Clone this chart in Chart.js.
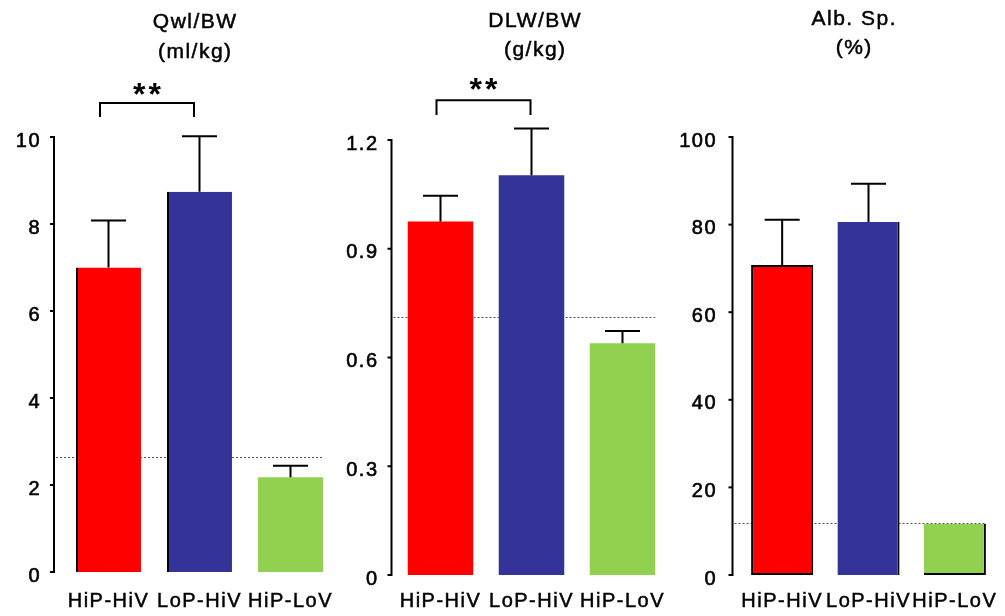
<!DOCTYPE html>
<html><head><meta charset="utf-8">
<script src="https://cdn.jsdelivr.net/npm/chart.js@4.4.1/dist/chart.umd.min.js"></script>
<style>
html,body{margin:0;padding:0;background:#fff;}
#wrap{position:relative;width:1005px;height:616px;overflow:hidden;background:#fff;}
canvas{position:absolute;top:0;}
</style></head><body>
<div id="wrap">
<canvas id="c1" width="340" height="616" style="left:0px"></canvas>
<canvas id="c2" width="330" height="616" style="left:340px"></canvas>
<canvas id="c3" width="335" height="616" style="left:670px"></canvas>
</div>
<script>
// ---- data ----
const categories = ['HiP-HiV', 'LoP-HiV', 'HiP-LoV'];
const barColors = ['#ff0000', '#333399', '#92d050'];

const qwlMeans = [7.00, 8.74, 2.18];
const qwlSem = [1.08, 1.28, 0.26];
const qwlTicks = [0, 2, 4, 6, 8, 10];
const qwlRef = 2.65;

const dlwMeans = [0.975, 1.103, 0.639];
const dlwSem = [0.071, 0.129, 0.034];
const dlwTicks = [0, 0.3, 0.6, 0.9, 1.2];
const dlwRef = 0.711;

const albMeans = [70.8, 80.6, 11.7];
const albSem = [10.3, 8.7, null];
const albTicks = [0, 20, 40, 60, 80, 100];
const albRef = 11.8;

const titles = [['Qwl/BW', '(ml/kg)'], ['DLW/BW', '(g/kg)'], ['Alb. Sp.', '(%)']];
const sigLabel = '**';

// ---- drawing ----
const FONT = "'Liberation Sans', Arial, Helvetica, sans-serif";

const decor = {
  id: 'decor',
  beforeLayout(chart) { chart.ctx.letterSpacing = '1.5px'; },
  beforeDraw(chart) { chart.ctx.letterSpacing = '1.5px'; },
  beforeDatasetsDraw(chart, args, o) {
    const ctx = chart.ctx, y = chart.scales.y, a = chart.chartArea;
    const meta = chart.getDatasetMeta(0);
    const ax = a.left - o.axisGap;
    const last = meta.data[meta.data.length - 1];
    ctx.save();
    // dotted reference line
    ctx.strokeStyle = '#555';
    ctx.lineWidth = 1;
    ctx.setLineDash([2, 2]);
    const ry = Math.round(y.getPixelForValue(o.ref)) + 0.5;
    ctx.beginPath();
    ctx.moveTo(ax + 2, ry);
    ctx.lineTo(last.x + last.width / 2, ry);
    ctx.stroke();
    ctx.setLineDash([]);
    // y axis line + tick marks
    ctx.strokeStyle = '#000';
    ctx.lineWidth = 2;
    ctx.beginPath();
    ctx.moveTo(ax, y.getPixelForValue(y.max) - 1);
    ctx.lineTo(ax, y.getPixelForValue(y.min) + 1);
    ctx.stroke();
    y.ticks.forEach(t => {
      const py = y.getPixelForValue(t.value);
      ctx.beginPath();
      ctx.moveTo(ax - 4, py);
      ctx.lineTo(ax, py);
      ctx.stroke();
    });
    ctx.restore();
  },
  afterDatasetsDraw(chart, args, o) {
    const ctx = chart.ctx, y = chart.scales.y, a = chart.chartArea;
    const meta = chart.getDatasetMeta(0);
    const ds = chart.data.datasets[0];
    ctx.save();
    ctx.strokeStyle = '#000';
    ctx.lineWidth = 2;
    // error bars
    meta.data.forEach((bar, i) => {
      const s = o.sem[i];
      if (s == null) return;
      const top = y.getPixelForValue(ds.data[i] + s);
      ctx.beginPath();
      ctx.moveTo(bar.x, bar.y);
      ctx.lineTo(bar.x, top);
      ctx.moveTo(bar.x - 17.5, top);
      ctx.lineTo(bar.x + 17.5, top);
      ctx.stroke();
    });
    // significance bracket
    if (o.bracket) {
      const b = o.bracket;
      const x1 = meta.data[b.from].x + b.dxFrom;
      const x2 = meta.data[b.to].x + b.dxTo;
      const yt = y.getPixelForValue(b.top);
      const yb = y.getPixelForValue(b.bottom);
      ctx.beginPath();
      ctx.moveTo(x1, yb);
      ctx.lineTo(x1, yt);
      ctx.lineTo(x2, yt);
      ctx.lineTo(x2, yb);
      ctx.stroke();
      ctx.fillStyle = '#000';
      ctx.font = 'bold 32px ' + FONT;
      ctx.letterSpacing = '3px';
      ctx.textAlign = 'center';
      ctx.textBaseline = 'alphabetic';
      const m = ctx.measureText(b.label);
      const cy = yt - b.labelGap;
      ctx.fillText(b.label, (x1 + x2) / 2 + 1.5, cy + (m.actualBoundingBoxAscent - m.actualBoundingBoxDescent) / 2);
    }
    // titles
    ctx.fillStyle = '#000';
    ctx.strokeStyle = '#000';
    ctx.lineWidth = 0.5;
    ctx.font = '21px ' + FONT;
    ctx.letterSpacing = '1.5px';
    ctx.textAlign = 'center';
    ctx.textBaseline = 'alphabetic';
    const cx = (a.left + a.right) / 2 + o.titleDx;
    o.title.forEach((t, i) => {
      ctx.strokeText(t, cx + 0.75, o.titleY[i]);
      ctx.fillText(t, cx + 0.75, o.titleY[i]);
    });
    ctx.restore();
  }
};

function makeChart(id, means, sem, tickVals, ref, fmt, cfg) {
  return new Chart(document.getElementById(id), {
    type: 'bar',
    data: {
      labels: categories,
      datasets: [{
        data: means,
        backgroundColor: barColors,
        borderColor: '#000',
        borderWidth: ctx => cfg.borders[ctx.dataIndex],
        borderSkipped: false,
        categoryPercentage: 1,
        barPercentage: cfg.barPct
      }]
    },
    options: {
      responsive: false,
      animation: false,
      devicePixelRatio: 1,
      layout: { padding: { left: 0, right: cfg.padRight, top: cfg.padTop, bottom: 0 } },
      plugins: {
        legend: { display: false },
        tooltip: { enabled: false },
        title: { display: false },
        decor: {
          sem: sem, ref: ref, axisGap: cfg.axisGap, bracket: cfg.bracket,
          title: cfg.title, titleDx: cfg.titleDx, titleY: cfg.titleY
        }
      },
      scales: {
        x: {
          grid: { display: false, drawTicks: false },
          border: { display: false },
          ticks: {
            color: '#000', font: { family: FONT, size: 20 }, padding: cfg.xPad,
            maxRotation: 0, autoSkip: false, textStrokeWidth: 0.5, textStrokeColor: '#000'
          },
          afterFit: s => { s.height = cfg.xHeight; s.paddingLeft = 0; s.paddingRight = 0; }
        },
        y: {
          min: 0,
          max: tickVals[tickVals.length - 1],
          grid: { display: false, drawTicks: false },
          border: { display: false },
          afterBuildTicks: s => { s.ticks = tickVals.map(v => ({ value: v })); },
          ticks: {
            color: '#000', font: { family: FONT, size: 20 }, padding: cfg.yPad, labelOffset: 4,
            callback: v => fmt(v), textStrokeWidth: 0.6, textStrokeColor: '#000'
          },
          afterFit: s => { s.width = cfg.yWidth; }
        }
      }
    },
    plugins: [decor]
  });
}

makeChart('c1', qwlMeans, qwlSem, qwlTicks, qwlRef, v => String(v), {
  yWidth: 63, padRight: 4, padTop: 137, xHeight: 44, xPad: 17, yPad: 22, axisGap: 9, barPct: 0.714,
  borders: [{ left: 2, top: 0, right: 0, bottom: 0 }, { left: 2, top: 0, right: 0, bottom: 0 }, 0],
  bracket: { from: 0, to: 1, dxFrom: -8.5, dxTo: -5.5, top: 10.78, bottom: 10.46, label: sigLabel, labelGap: 14 },
  title: titles[0], titleDx: -5, titleY: [28, 58]
});
makeChart('c2', dlwMeans, dlwSem, dlwTicks, dlwRef, v => (v === 0 ? '0' : v.toFixed(1)), {
  yWidth: 55, padRight: 2, padTop: 140, xHeight: 41, xPad: 14, yPad: 16.5, axisGap: 3.5, barPct: 0.72,
  borders: [0, 0, 0],
  bracket: { from: 0, to: 1, dxFrom: -4, dxTo: -1, top: 1.31, bottom: 1.269, label: sigLabel, labelGap: 16 },
  title: titles[1], titleDx: 3, titleY: [27, 56]
});
makeChart('c3', albMeans, albSem, albTicks, albRef, v => String(v), {
  yWidth: 69, padRight: 7, padTop: 137, xHeight: 41, xPad: 14, yPad: 22, axisGap: 6.5, barPct: 0.72,
  borders: [2, { left: 0, top: 0, right: 2, bottom: 0 }, { left: 0, top: 0, right: 2, bottom: 2 }],
  bracket: null,
  title: titles[2], titleDx: -15, titleY: [25, 54]
});
</script>
</body></html>
